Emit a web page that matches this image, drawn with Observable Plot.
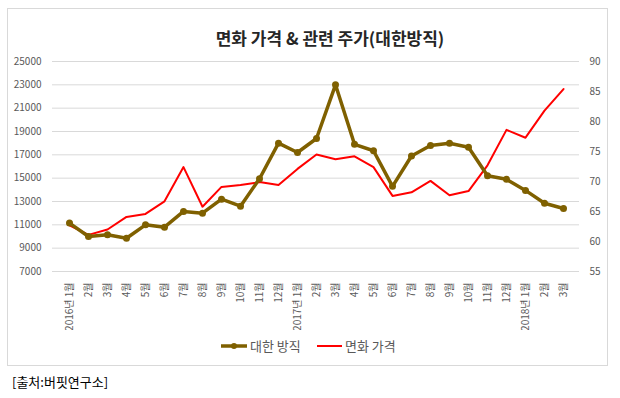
<!DOCTYPE html>
<html>
<head>
<meta charset="utf-8">
<script src="https://cdn.jsdelivr.net/npm/d3@7"></script>
<script src="https://cdn.jsdelivr.net/npm/@observablehq/plot@0.6"></script>
<style>
  html, body { margin: 0; padding: 0; background: #fff; }
  body { width: 620px; height: 398px; position: relative; overflow: hidden;
         font-family: "Noto Sans CJK KR", "Noto Sans", sans-serif; }
  #frame { position: absolute; left: 7px; top: 8px; width: 601px; height: 358px;
           border: 1px solid #d9d9d9; box-sizing: border-box; }
  #title { position: absolute; left: 0; width: 660px; top: 26px; text-align: center;
           font-size: 17px; font-weight: 700; color: #262626; line-height: 24px; }
  #chart { position: absolute; left: 0; top: 0; }
  #legend { position: absolute; top: 337px; left: 0; width: 620px; height: 18px; }
  #legend .item { position: absolute; top: 0; font-size: 13px; color: #595959; line-height: 18px; }
  #caption { position: absolute; left: 12px; top: 373px; font-size: 13px; color: #000; line-height: 18px; }
</style>
</head>
<body>
<div id="frame"></div>
<div id="chart"></div>
<div id="title">면화 가격 &amp; 관련 주가(대한방직)</div>
<div id="legend">
  <svg width="620" height="18" style="position:absolute;left:0;top:0">
    <line x1="221" x2="247" y1="9" y2="9" stroke="#7f6000" stroke-width="3.5"/>
    <circle cx="234" cy="9" r="3" fill="#7f6000"/>
    <line x1="317" x2="342" y1="9" y2="9" stroke="#ff0000" stroke-width="2"/>
  </svg>
  <span class="item" style="left:250px">대한 방직</span>
  <span class="item" style="left:345px">면화 가격</span>
</div>
<div id="caption">[출처:버핏연구소]</div>
<script>
const periods = ["2016-01","2016-02","2016-03","2016-04","2016-05","2016-06","2016-07","2016-08","2016-09","2016-10","2016-11","2016-12",
                 "2017-01","2017-02","2017-03","2017-04","2017-05","2017-06","2017-07","2017-08","2017-09","2017-10","2017-11","2017-12",
                 "2018-01","2018-02","2018-03"];
const tickLabels = ["2016년 1월","2월","3월","4월","5월","6월","7월","8월","9월","10월","11월","12월",
                    "2017년 1월","2월","3월","4월","5월","6월","7월","8월","9월","10월","11월","12월",
                    "2018년 1월","2월","3월"];
const daehan = [11150, 10000, 10150, 9850, 11000, 10800, 12150, 12000, 13200, 12600, 14950, 18000,
                17200, 18400, 23000, 17900, 17350, 14300, 16900, 17800, 18000, 17650, 15200, 14900,
                13950, 12850, 12400];
const cotton = [62.7, 61.1, 62.0, 64.1, 64.6, 66.7, 72.4, 65.8, 69.1, 69.4, 69.9, 69.4,
                72.1, 74.5, 73.7, 74.2, 72.4, 67.6, 68.2, 70.1, 67.7, 68.4, 72.7, 78.6,
                77.3, 81.8, 85.4];
const leftTicks = [7000, 9000, 11000, 13000, 15000, 17000, 19000, 21000, 23000, 25000];
const rightTicks = [55, 60, 65, 70, 75, 80, 85, 90];

// map right-axis values (55..90) onto left-axis domain (7000..25000)
const L0 = 7000, L1 = 25000, R0 = 55, R1 = 90;
const toLeft = v => L0 + (v - R0) * (L1 - L0) / (R1 - R0);
const toRight = v => R0 + (v - L0) * (R1 - R0) / (L1 - L0);

const stockData = periods.map((p, i) => ({p, v: daehan[i]}));
const cottonData = periods.map((p, i) => ({p, v: toLeft(cotton[i])}));
const labelOf = new Map(periods.map((p, i) => [p, tickLabels[i]]));

const chart = Plot.plot({
  width: 620,
  height: 330,
  marginTop: 61,
  marginBottom: 59,
  marginLeft: 52,
  marginRight: 41,
  style: {fontFamily: '"Noto Sans CJK KR", "Noto Sans", sans-serif', fontSize: "10px", color: "#595959", background: "transparent"},
  x: {type: "point", domain: periods, padding: 0.5},
  y: {domain: [L0, L1]},
  marks: [
    Plot.gridY(leftTicks, {stroke: "#d9d9d9", strokeOpacity: 1}),
    Plot.axisY(leftTicks, {anchor: "left", tickSize: 0, tickPadding: 11, tickFormat: d3.format("d"), label: null, fill: "#595959"}),
    Plot.axisY(rightTicks.map(toLeft), {anchor: "right", tickSize: 0, tickPadding: 10, tickFormat: d => String(Math.round(toRight(d))), label: null, fill: "#595959"}),
    Plot.axisX({tickSize: 0, tickPadding: 11, tickRotate: -90, tickFormat: d => labelOf.get(d), label: null, fill: "#595959"}),
    Plot.line(cottonData, {x: "p", y: "v", stroke: "#ff0000", strokeWidth: 2}),
    Plot.line(stockData, {x: "p", y: "v", stroke: "#7f6000", strokeWidth: 3.5}),
    Plot.dot(stockData, {x: "p", y: "v", r: 3.5, fill: "#7f6000", stroke: "none"})
  ]
});
document.getElementById("chart").appendChild(chart);
</script>
</body>
</html>
